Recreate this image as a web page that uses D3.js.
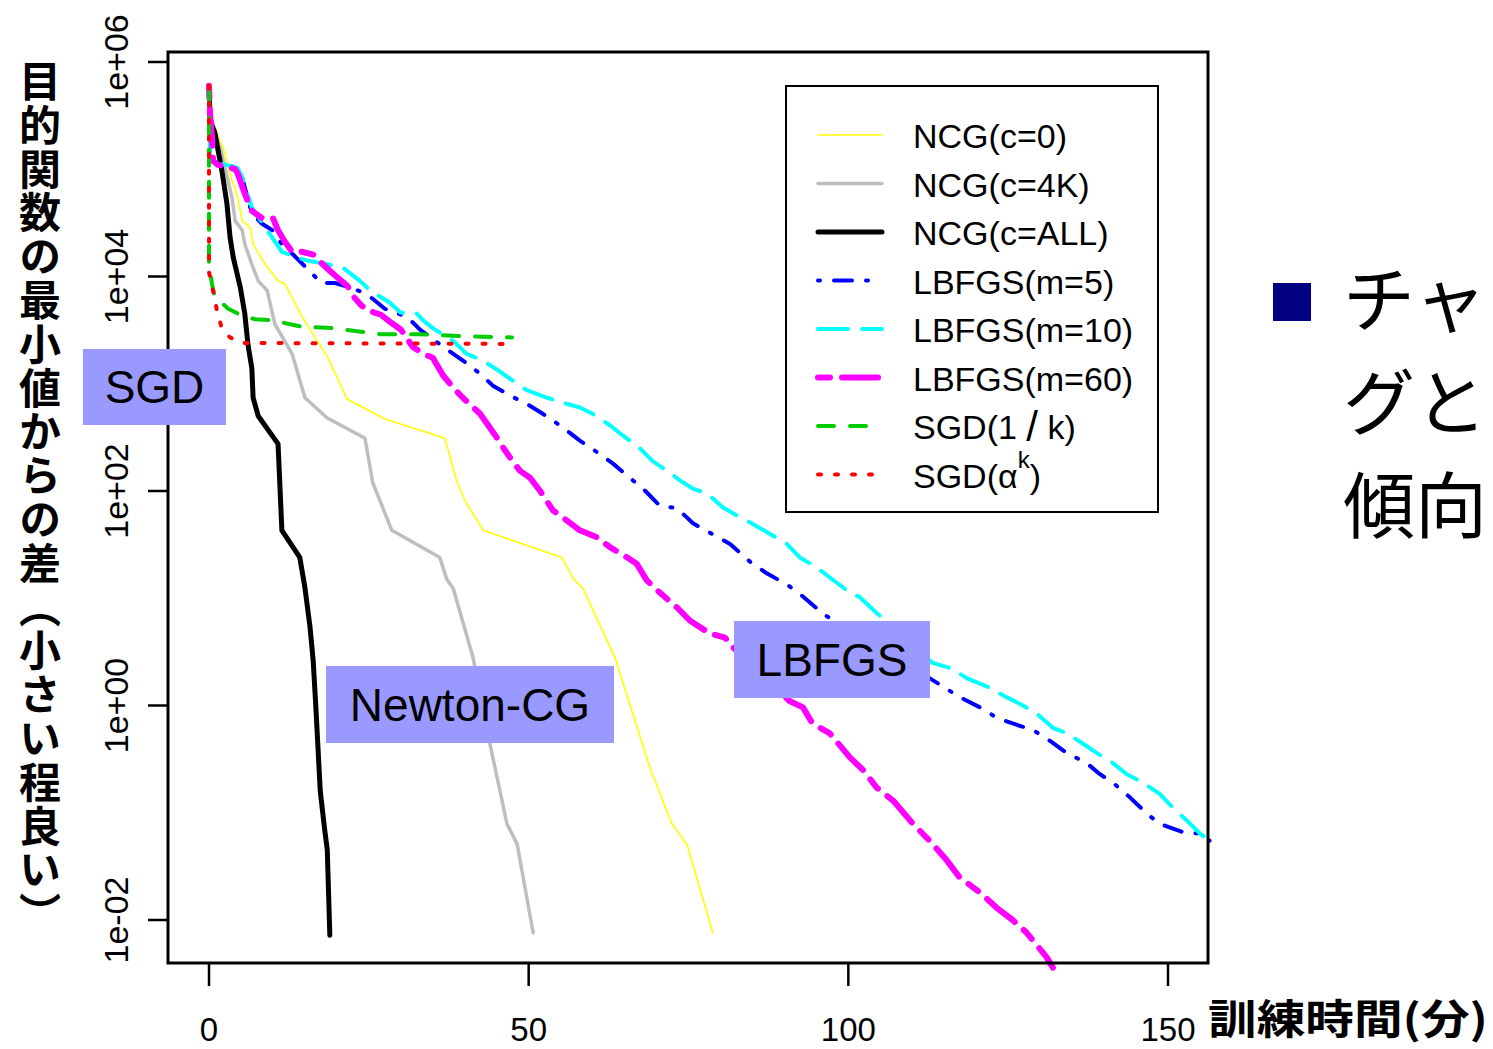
<!DOCTYPE html>
<html>
<head>
<meta charset="utf-8">
<script src="https://cdn.jsdelivr.net/npm/d3@7"></script>
<style>
  body { margin: 0; background: #fff; overflow: hidden; }
  text { font-family: "Liberation Sans", Arial, sans-serif; }
  .jp { font-family: "Noto Sans CJK JP", sans-serif; }
</style>
</head>
<body>
<div id="chart"></div>
<script>
// data: [minutes, objective - min]
const ncgC0 = [[0,6.0e5],[0.3,3.2e5],[0.9,2.5e5],[2.5,1.4e5],[3.6,7.8e4],[4.5,5.4e4],[5.2,3.3e4],[6.4,2.9e4],[6.9,2.0e4],[8.8,1.3e4],[10.8,9.1e3],[11.9,8.5e3],[13.5,5.6e3],[14.5,4.3e3],[16.1,3.0e3],[18.5,1.8e3],[21.6,720],[27.5,470],[36.9,310],[38.8,120],[40.3,76],[42.9,43],[55.2,24],[56.9,15.5],[58.5,12.3],[63.5,2.8],[69.0,0.26],[72.4,0.079],[74.8,0.050],[78.8,0.0076]];
const ncgC4K = [[0,6.0e5],[0.3,3.0e5],[2.0,1.4e5],[3.6,5.4e4],[4.1,3.3e4],[5.2,2.7e4],[5.6,2.0e4],[6.7,1.3e4],[7.7,9.1e3],[9.1,7.4e3],[10.3,3.6e3],[13.0,1.9e3],[15.0,740],[18.5,480],[24.4,310],[25.6,120],[28.6,43],[36.1,24],[37.2,15],[38.2,12.3],[41.3,2.8],[43.9,0.45],[46.6,0.079],[48.2,0.051],[50.7,0.0076]];
const ncgAll = [[0,6.0e5],[0.2,2.8e5],[0.9,2.2e5],[2.0,9.8e4],[2.8,4.8e4],[3.3,2.3e4],[3.8,1.5e4],[4.9,7.9e3],[5.6,4.5e3],[6.1,2.3e3],[6.7,1.4e3],[6.9,740],[7.7,500],[10.8,275],[11.4,43],[14.2,24],[15.0,12.6],[15.8,5.4],[16.3,2.6],[16.7,1.0],[17.4,0.16],[18.1,0.069],[18.5,0.045],[18.9,0.0072]];
const lbfgsM5 = [[0,6.0e5],[0.16,1.2e5],[4.5,1.03e5],[5.2,8.3e4],[6.7,3.9e4],[8.3,3.1e4],[9.9,2.7e4],[11.4,2.0e4],[13.4,1.55e4],[15.9,1.1e4],[17.5,8.7e3],[19.7,8.7e3],[22.0,7.9e3],[24.1,7.1e3],[25.6,6.2e3],[27.5,5.0e3],[31.0,4.2e3],[33.0,3.2e3],[35.0,2.6e3],[37.7,2.0e3],[40.3,1.55e3],[42.4,1.24e3],[44.4,960],[47.1,775],[49.7,650],[52.2,525],[55.4,390],[58.0,295],[60.7,230],[63.2,180],[65.8,133],[67.9,105],[70.5,73],[73.2,69],[75.7,50],[78.3,41],[81.5,32],[84.6,22],[87.3,17],[90.4,13.4],[92.4,11],[96.0,7.2],[98.2,5.9],[105.4,3.3],[112.7,1.8],[117.4,1.2],[120.6,0.96],[123.2,0.77],[125.7,0.68],[128.9,0.59],[131.5,0.47],[134.2,0.36],[137.3,0.29],[139.3,0.23],[141.4,0.19],[144.0,0.14],[146.7,0.098],[148.7,0.079],[152.3,0.066],[155.0,0.064],[156.5,0.055]];
const lbfgsM10 = [[0,6.0e5],[0.16,1.2e5],[4.5,1.03e5],[5.2,8.3e4],[6.7,4.4e4],[11.4,1.7e4],[13.9,1.5e4],[15.5,1.4e4],[18.6,1.3e4],[21.0,1.2e4],[23.6,9.1e3],[25.2,7.4e3],[28.3,5.7e3],[30.0,4.6e3],[32.5,4.5e3],[33.5,3.9e3],[35.0,3.3e3],[38.2,2.5e3],[40.3,1.9e3],[42.8,1.65e3],[45.5,1.3e3],[47.5,1.07e3],[49.7,870],[52.9,740],[55.4,665],[58.0,600],[60.0,525],[62.7,410],[64.7,330],[67.4,250],[69.4,190],[71.6,155],[73.7,125],[75.7,105],[77.9,95],[80.4,70],[82.6,59],[85.1,49],[87.7,40],[90.4,32],[92.4,24],[95.1,19.3],[97.1,15.6],[99.8,11.8],[101.8,10.2],[104.5,7.2],[106.5,5.8],[110.1,3.5],[113.2,2.5],[116.3,2.2],[118.5,1.8],[121.7,1.5],[124.8,1.19],[126.8,1.04],[129.5,0.84],[132.0,0.62],[134.2,0.55],[136.7,0.44],[138.9,0.36],[141.4,0.29],[143.5,0.23],[146.1,0.19],[148.7,0.15],[150.7,0.112],[152.9,0.085],[155.0,0.064],[156.5,0.055]];
const lbfgsM60 = [[0,6.0e5],[0.16,3.3e5],[0.47,2.0e5],[0.63,1.2e5],[1.4,1.1e5],[4.1,1.0e5],[4.5,9.1e4],[5.6,5.9e4],[6.7,4.1e4],[8.3,3.5e4],[10.0,3.5e4],[10.8,2.7e4],[11.9,2.1e4],[13.0,1.7e4],[14.5,1.7e4],[16.3,1.6e4],[17.5,1.35e4],[19.1,1.1e4],[21.7,8.1e3],[22.5,6.6e3],[23.8,5.4e3],[24.9,4.8e3],[26.9,4.4e3],[28.5,3.7e3],[30.0,3.2e3],[31.9,2.2e3],[33.5,1.9e3],[35.0,1.75e3],[36.6,1.2e3],[38.2,920],[39.7,740],[42.4,525],[45.0,315],[46.6,225],[48.6,155],[50.2,133],[51.8,100],[53.8,66],[56.0,53],[58.0,43],[60.7,37],[62.7,30],[65.4,24],[66.9,21],[68.5,14.6],[70.5,11.3],[73.2,8.2],[75.2,6.2],[78.3,4.7],[80.7,4.3],[81.9,3.5],[86.2,2.1],[90.8,1.1],[92.9,0.96],[94.4,0.68],[97.1,0.55],[100.2,0.33],[102.3,0.25],[104.5,0.17],[107.0,0.13],[110.1,0.079],[112.7,0.055],[115.4,0.036],[117.4,0.025],[120.6,0.018],[123.2,0.013],[125.7,0.010],[127.9,0.0076],[131.0,0.0045],[132.0,0.0036]];
const sgdInvK = [[0,6.0e5],[0,1.3e4],[0.47,8.5e3],[0.94,6.3e3],[1.7,5.9e3],[3.0,5.0e3],[5.2,4.3e3],[7.2,4.0e3],[9.9,3.9e3],[14.5,3.4e3],[19.4,3.3e3],[26.7,2.9e3],[33.0,2.9e3],[38.2,2.8e3],[47.4,2.7e3]];
const sgdAlphaK = [[0,6.0e5],[0,1.1e4],[0.63,7.4e3],[1.25,4.8e3],[2.0,3.3e3],[3.3,2.7e3],[5.2,2.4e3],[47.4,2.35e3]];

const seriesNames = ["NCG(c=0)", "NCG(c=4K)", "NCG(c=ALL)", "LBFGS(m=5)", "LBFGS(m=10)", "LBFGS(m=60)", "SGD(1/k)", "SGD(αk)"];
const timeTicks = [0, 50, 100, 150];
const valueTicks = [1e6, 1e4, 1e2, 1e0, 1e-2];
const valueTickLabels = ["1e+06", "1e+04", "1e+02", "1e+00", "1e-02"];
const yTitle = "目的関数の最小値からの差（小さい程良い）";
const xTitle = "訓練時間(分)";
const sideLines = ["チャ", "グと", "傾向"];

const width = 1493, height = 1049;
const frame = {left: 168, right: 1208, top: 52, bottom: 963};

const svg = d3.select("#chart").append("svg")
  .attr("width", width)
  .attr("height", height);

const x = d3.scaleLinear().domain([0, 150]).range([209, 1168]);
const y = d3.scaleLog().domain([1e-2, 1e6]).range([920, 62]);

// line styles, same order as seriesNames
const styles = [
  {data: ncgC0,    color: "#ffff00", w: 1.6, dash: null},
  {data: ncgC4K,   color: "#bebebe", w: 3.5, dash: null},
  {data: ncgAll,   color: "#000000", w: 5,   dash: null},
  {data: lbfgsM5,  color: "#0000ff", w: 4,   dash: "2,14,18,14"},
  {data: lbfgsM10, color: "#00ffff", w: 4,   dash: "30,14"},
  {data: lbfgsM60, color: "#ff00ff", w: 6,   dash: "12,12,36,12"},
  {data: sgdInvK,  color: "#00cd00", w: 4,   dash: "16,16"},
  {data: sgdAlphaK,color: "#ff0000", w: 4,   dash: "3,14"}
];

const line = d3.line().x(d => x(d[0])).y(d => y(d[1]));

svg.append("g")
  .selectAll("path")
  .data(styles)
  .join("path")
    .attr("d", d => line(d.data))
    .attr("fill", "none")
    .attr("stroke", d => d.color)
    .attr("stroke-width", d => d.w)
    .attr("stroke-dasharray", d => d.dash)
    .attr("stroke-linecap", "round")
    .attr("stroke-linejoin", "round");

// frame
svg.append("rect")
  .attr("x", frame.left).attr("y", frame.top)
  .attr("width", frame.right - frame.left)
  .attr("height", frame.bottom - frame.top)
  .attr("fill", "none").attr("stroke", "#000").attr("stroke-width", 3);

// x axis ticks + labels
const xAxis = svg.append("g");
xAxis.selectAll("line")
  .data(timeTicks)
  .join("line")
    .attr("x1", d => x(d)).attr("x2", d => x(d))
    .attr("y1", frame.bottom).attr("y2", frame.bottom + 23)
    .attr("stroke", "#000").attr("stroke-width", 2.5);
xAxis.selectAll("text")
  .data(timeTicks)
  .join("text")
    .attr("x", d => x(d)).attr("y", 1041)
    .attr("text-anchor", "middle")
    .attr("font-size", 33)
    .text(d => d);

// y axis ticks + labels
const yAxis = svg.append("g");
yAxis.selectAll("line")
  .data(valueTicks)
  .join("line")
    .attr("x1", frame.left - 20).attr("x2", frame.left)
    .attr("y1", d => y(d)).attr("y2", d => y(d))
    .attr("stroke", "#000").attr("stroke-width", 2.5);
yAxis.selectAll("text")
  .data(valueTicks)
  .join("text")
    .attr("transform", d => `translate(128,${y(d)}) rotate(-90)`)
    .attr("text-anchor", "middle")
    .attr("font-size", 34)
    .text((d, i) => valueTickLabels[i]);

// axis titles
svg.append("text")
  .attr("class", "jp")
  .attr("x", 40).attr("y", 60)
  .attr("font-size", 42).attr("font-weight", "bold")
  .style("writing-mode", "vertical-rl")
  .style("letter-spacing", "1.8px")
  .text(yTitle);

svg.append("text")
  .attr("class", "jp")
  .attr("x", 1208).attr("y", 1034)
  .attr("font-size", 41).attr("font-weight", "bold")
  .attr("textLength", 280).attr("lengthAdjust", "spacingAndGlyphs")
  .text(xTitle);

// legend
const legend = svg.append("g");
legend.append("rect")
  .attr("x", 786).attr("y", 86).attr("width", 372).attr("height", 426)
  .attr("fill", "#fff").attr("stroke", "#000").attr("stroke-width", 2);

const rows = legend.selectAll("g.row")
  .data(styles)
  .join("g")
    .attr("class", "row")
    .attr("transform", (d, i) => `translate(0,${135 + i * 48.5})`);
rows.append("line")
  .attr("x1", 818).attr("x2", 882)
  .attr("stroke", d => d.color)
  .attr("stroke-width", d => d.w)
  .attr("stroke-dasharray", d => d.dash)
  .attr("stroke-linecap", "round");
rows.append("text")
  .attr("x", 913).attr("y", 13)
  .attr("font-size", 34)
  .each(function(d, i) {
    const t = d3.select(this);
    const name = seriesNames[i];
    if (name === "SGD(αk)") {
      t.append("tspan").text("SGD(α");
      t.append("tspan").attr("dy", -20).attr("font-size", 24).text("k");
      t.append("tspan").attr("dy", 20).text(")");
    } else if (name === "SGD(1/k)") {
      t.append("tspan").text("SGD(1 ");
      t.append("tspan").attr("font-size", 42).attr("dy", 2).text("/");
      t.append("tspan").attr("dy", -2).text(" k)");
    } else {
      t.text(name);
    }
  });

// slide annotations
const notes = [
  {label: "SGD", x0: 83, y0: 349, x1: 226, y1: 425},
  {label: "Newton-CG", x0: 326, y0: 666, x1: 614, y1: 743},
  {label: "LBFGS", x0: 734, y0: 621, x1: 930, y1: 698}
];
const ng = svg.append("g").selectAll("g").data(notes).join("g");
ng.append("rect")
  .attr("x", d => d.x0).attr("y", d => d.y0)
  .attr("width", d => d.x1 - d.x0).attr("height", d => d.y1 - d.y0)
  .attr("fill", "#9999ff");
ng.append("text")
  .attr("x", d => (d.x0 + d.x1) / 2).attr("y", d => (d.y0 + d.y1) / 2 + 16)
  .attr("text-anchor", "middle")
  .attr("font-size", 46)
  .text(d => d.label);

// bullet text on the right
svg.append("rect")
  .attr("x", 1273).attr("y", 283).attr("width", 38).attr("height", 38)
  .attr("fill", "#000080");
svg.append("g").selectAll("text")
  .data(sideLines)
  .join("text")
    .attr("class", "jp")
    .attr("x", 1343).attr("y", (d, i) => 326 + i * 103)
    .attr("font-size", 72)
    .text(d => d);
</script>
</body>
</html>
